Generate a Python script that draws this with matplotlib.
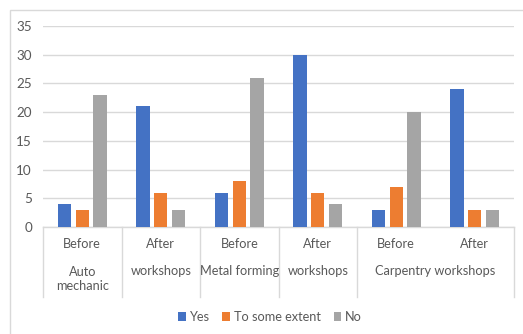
import matplotlib
matplotlib.use("Agg")
import matplotlib.pyplot as plt
from matplotlib.patches import Rectangle
from matplotlib.transforms import blended_transform_factory
import numpy as np

plt.rcParams['font.family'] = ['Lato', 'DejaVu Sans']

phases = ["Before", "After", "Before", "After", "Before", "After"]
groups = ["Auto\nmechanic", "workshops", "Metal forming", "workshops", "Carpentry workshops"]
group_spans = [1, 1, 1, 1, 2]
series_names = ["Yes", "To some extent", "No"]
yes = [4, 21, 6, 30, 3, 24]
some = [3, 6, 8, 6, 7, 3]
no = [23, 3, 26, 4, 20, 3]
colors = ["#4472C4", "#ED7D31", "#A5A5A5"]
yticks = [0, 5, 10, 15, 20, 25, 30, 35]

W, H = 523, 334
FS = 9.2
TXT_COLOR = "#595959"
fig = plt.figure(figsize=(W / 100, H / 100), dpi=100)
fig.patch.set_facecolor("white")

# outer chart frame
fig.patches.append(Rectangle((10 / W, -0.1), 1.2, (H - 10) / H + 0.1,
                             transform=fig.transFigure, fill=False,
                             edgecolor="#D9D9D9", linewidth=1.0))

ax = fig.add_axes([43 / W, 107 / H, (514 - 43) / W, (308 - 107) / H])
x = np.arange(len(phases))
bw = 0.17
pitch = 0.225
for i, (vals, c, name) in enumerate(zip([yes, some, no], colors, series_names)):
    ax.bar(x + (i - 1) * pitch, vals, width=bw, color=c, label=name, zorder=3)

ax.set_xlim(-0.5, len(phases) - 0.5)
ax.set_ylim(0, 35)
ax.set_yticks(yticks)
ax.yaxis.grid(True, color="#D9D9D9", linewidth=1.0, zorder=0)
ax.set_xticks([])
for s in ["top", "right", "left"]:
    ax.spines[s].set_visible(False)
ax.spines["bottom"].set_color("#D9D9D9")
ax.spines["bottom"].set_linewidth(1.0)
ax.tick_params(axis="y", length=0, pad=8, labelsize=FS + 0.5, labelcolor=TXT_COLOR)
ax.set_facecolor("none")

tr = blended_transform_factory(ax.transData, fig.transFigure)
txt = dict(color=TXT_COLOR, fontsize=FS, ha="center", va="center")

# first level labels
for xi, p in zip(x, phases):
    ax.text(xi, 1 - 244 / H, p, transform=tr, **txt)

# second level labels and separators
start = 0
bounds = [start - 0.5]
for g, span in zip(groups, group_spans):
    center = start + (span - 1) / 2
    ax.text(center, 1 - (279 if "\n" in g else 271) / H, g, transform=tr,
            linespacing=1.3, **txt)
    start += span
    bounds.append(start - 0.5)
for b in bounds:
    ax.plot([b, b], [1 - 227 / H, 1 - 297 / H], transform=tr, color="#D9D9D9",
            linewidth=1.0, clip_on=False)

leg = fig.legend(loc="center", bbox_to_anchor=(270 / W, 1 - 317 / H), ncol=3,
                 frameon=False, fontsize=FS, handlelength=0.6, handleheight=0.6,
                 handletextpad=0.3, columnspacing=1.0, labelcolor=TXT_COLOR)

fig.savefig("out.png", dpi=100, facecolor="white")
